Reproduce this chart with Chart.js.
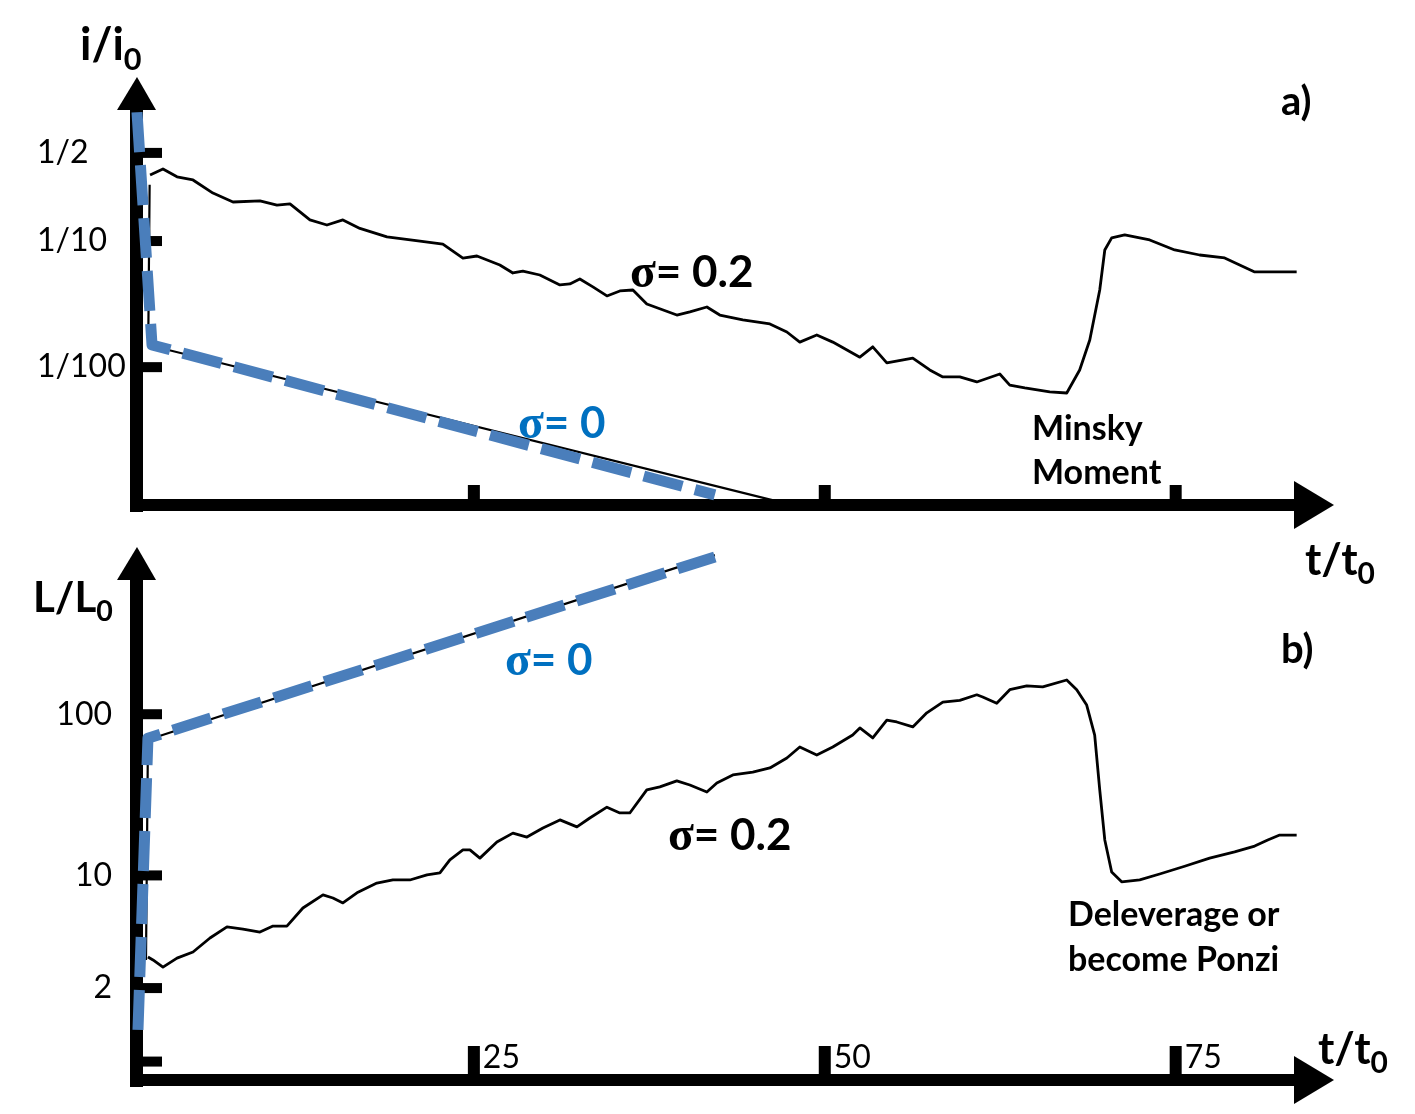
<!DOCTYPE html>
<html>
<head>
<meta charset="utf-8">
<script src="https://cdn.jsdelivr.net/npm/chart.js@4.4.1/dist/chart.umd.min.js"></script>
<style>
  body { margin: 0; background: #fff; }
  #page { position: relative; width: 1415px; height: 1114px; overflow: hidden; }
  canvas { position: absolute; left: 0; }
  .lbl { position: absolute; line-height: 1; transform: translateY(-50%); white-space: nowrap;
         font-family: Lato, "Open Sans", sans-serif; font-weight: bold; color: #000; }
  .lbl sub { font-size: 0.68em; vertical-align: -0.32em; }
  .sig { font-family: "Liberation Serif", serif; font-weight: bold; font-size: 1.08em; }
  .blue { color: #0070c0; }
</style>
</head>
<body>
<div id="page">
  <canvas id="topChart" width="1415" height="540" style="top:0"></canvas>
  <canvas id="bottomChart" width="1415" height="574" style="top:540px"></canvas>

  <div class="lbl" style="left:80px;top:48px;font-size:45px">i/i<sub>0</sub></div>
  <div class="lbl" style="left:1281px;top:100px;font-size:40px">a)</div>
  <div class="lbl" style="left:630px;top:272px;font-size:44px"><span class="sig">σ</span>= 0.2</div>
  <div class="lbl blue" style="left:518px;top:423px;font-size:44px"><span class="sig">σ</span>= 0</div>
  <div class="lbl" style="left:1032px;top:427px;font-size:34px">Minsky</div>
  <div class="lbl" style="left:1032px;top:471px;font-size:34px">Moment</div>
  <div class="lbl" style="left:1305px;top:562px;font-size:44px">t/t<sub>0</sub></div>

  <div class="lbl" style="left:33px;top:600px;font-size:42px">L/L<sub>0</sub></div>
  <div class="lbl" style="left:1281px;top:648px;font-size:40px">b)</div>
  <div class="lbl blue" style="left:505px;top:660px;font-size:44px"><span class="sig">σ</span>= 0</div>
  <div class="lbl" style="left:668px;top:835px;font-size:44px"><span class="sig">σ</span>= 0.2</div>
  <div class="lbl" style="left:1068px;top:913px;font-size:34px">Deleverage or</div>
  <div class="lbl" style="left:1068px;top:958px;font-size:34px">become Ponzi</div>
  <div class="lbl" style="left:1318px;top:1051px;font-size:44px">t/t<sub>0</sub></div>
</div>

<script>
// time axis (t/t0)
const xTickValues = [25, 50, 75];
const xTickLabels = ['25', '50', '75'];

// panel a) interest rate i/i0
const topTickValues = [0.5, 0.1, 0.01];
const topTickLabels = ['1/2', '1/10', '1/100'];

const topNoiseT = [1.93, 2.85, 3.85, 4.99, 6.41, 7.84, 9.76, 10.97, 11.9, 13.32, 14.53, 15.67, 16.88, 18.81, 21.16, 22.79, 24.22, 25.22, 26.85, 27.78, 28.49, 29.70, 31.13, 31.84, 32.55, 33.48, 34.48, 35.40, 36.33, 37.32, 39.46, 40.39, 41.6, 42.52, 44.16, 46.09, 47.3, 48.22, 49.43, 50.57, 52.5, 53.42, 54.42, 56.27, 57.48, 58.41, 59.62, 60.83, 62.47, 63.18, 64.25, 66.03, 67.24, 68.16, 68.88, 69.59, 69.95, 70.44, 71.37, 73.15, 74.93, 76.71, 78.49, 79.56, 80.63, 82.05, 83.62];
const topNoiseV = [0.334, 0.373, 0.323, 0.305, 0.240, 0.204, 0.208, 0.193, 0.197, 0.147, 0.134, 0.147, 0.126, 0.108, 0.100, 0.0946, 0.0733, 0.0761, 0.0646, 0.0558, 0.0578, 0.0538, 0.0449, 0.0457, 0.0500, 0.0433, 0.0367, 0.0402, 0.0409, 0.0317, 0.0259, 0.0274, 0.0300, 0.0259, 0.0237, 0.0220, 0.0190, 0.0158, 0.0180, 0.0158, 0.0120, 0.0145, 0.0108, 0.0118, 0.0095, 0.00836, 0.00836, 0.00763, 0.00883, 0.00720, 0.00684, 0.00636, 0.00624, 0.0095, 0.0164, 0.0409, 0.0849, 0.106, 0.112, 0.102, 0.085, 0.0775, 0.0734, 0.0646, 0.0569, 0.0569, 0.0569];

const topFlatT = [1, 2.07, 42.17];
const topFlatV = [1.05, 0.0150, 0.00097];
const topFlatBlackT = [1.9, 1.8, 48.2];
const topFlatBlackV = [0.28, 0.0150, 0.00078];

// panel b) leverage L/L0
const botTickValues = [0.7, 2, 10, 100];
const botTickLabels = ['', '2', '10', '100'];

const botNoiseT = [1.78, 2.14, 2.85, 3.85, 4.99, 6.20, 7.41, 8.55, 9.76, 10.69, 11.68, 12.82, 14.25, 14.96, 15.67, 16.67, 18.09, 19.23, 20.44, 21.66, 22.58, 23.29, 24.22, 24.72, 25.43, 26.64, 27.78, 28.78, 29.92, 31.13, 32.34, 33.26, 34.48, 35.40, 36.11, 37.32, 38.25, 39.46, 40.39, 41.6, 42.31, 43.45, 44.87, 46.09, 47.3, 48.22, 49.43, 50.57, 51.99, 52.5, 53.42, 54.42, 55.13, 56.27, 57.27, 58.41, 59.62, 60.83, 61.25, 62.25, 63.18, 64.39, 65.53, 67.24, 67.95, 68.66, 69.23, 69.59, 69.95, 70.44, 71.15, 72.44, 73.86, 75.64, 77.42, 79.2, 80.63, 81.56, 82.41, 83.62];
const botNoiseV = [3.12, 2.99, 2.70, 3.07, 3.35, 4.09, 4.79, 4.65, 4.45, 4.85, 4.85, 6.28, 7.57, 7.24, 6.75, 7.80, 8.97, 9.37, 9.37, 10.07, 10.37, 12.5, 14.4, 14.4, 12.8, 16.1, 18.3, 17.3, 19.7, 22.1, 20.0, 22.7, 26.5, 24.4, 24.4, 33.9, 35.4, 38.6, 36.4, 32.9, 37.4, 42.0, 43.8, 46.4, 53.5, 62.6, 55.8, 62.6, 74.3, 82.2, 71.3, 92.0, 89.5, 83.4, 102, 119, 122, 132, 128, 117, 142, 150, 148, 163, 142, 114, 74.3, 33.9, 16.6, 10.5, 9.12, 9.38, 10.2, 11.4, 12.8, 14.0, 15.2, 16.6, 17.8, 17.8];

const botFlatT = [1.07, 1.78, 42.17];
const botFlatV = [1.10, 71.0, 946];
const botFlatBlackT = [1.64, 1.78, 42.17];
const botFlatBlackV = [2.99, 69.5, 971];

function points(ts, vs) {
    return ts.map((t, i) => ({ x: t, y: vs[i] }));
}

// hand-drawn style axes: thick lines, arrow heads, stubby ticks
const sketchAxes = {
    id: 'sketchAxes',
    beforeDatasetsDraw(chart, args, opts) {
        const { ctx, chartArea: a, scales: { x, y } } = chart;
        ctx.save();
        ctx.fillStyle = '#000';

        ctx.fillRect(a.left - 7, a.top, 13, a.bottom - a.top + 7);
        ctx.beginPath();
        ctx.moveTo(a.left - 20, a.top + 2);
        ctx.lineTo(a.left + 19, a.top + 2);
        ctx.lineTo(a.left, a.top - 31);
        ctx.closePath();
        ctx.fill();

        ctx.fillRect(a.left - 7, a.bottom - 6, a.right - a.left + 2, 12);
        ctx.beginPath();
        ctx.moveTo(a.right - 8, a.bottom - 24);
        ctx.lineTo(a.right - 8, a.bottom + 24);
        ctx.lineTo(a.right + 32, a.bottom);
        ctx.closePath();
        ctx.fill();

        opts.yStubs.forEach(v => {
            const py = y.getPixelForValue(v);
            ctx.fillRect(a.left, py - 5, 25, 10);
        });
        xTickValues.forEach((v, i) => {
            const px = x.getPixelForValue(v);
            ctx.fillRect(px - 6, a.bottom - opts.xStubLen, 12, opts.xStubLen);
            if (opts.xLabels) {
                ctx.font = '32px Lato, sans-serif';
                ctx.textBaseline = 'middle';
                ctx.fillText(xTickLabels[i], px + 9, a.bottom - 22);
            }
        });
        ctx.restore();
    }
};

function makeChart(id, cfg) {
    return new Chart(document.getElementById(id), {
        type: 'line',
        data: {
            datasets: [
                { data: cfg.flat, borderColor: '#4a7ebb', borderWidth: 11, borderDash: [40, 13],
                  borderCapStyle: 'butt', borderJoinStyle: 'round', clip: false },
                { data: cfg.flatBlack, borderColor: '#000', borderWidth: 2.2, clip: false },
                { data: cfg.noise, borderColor: '#000', borderWidth: 2.8, borderJoinStyle: 'round', clip: false }
            ]
        },
        options: {
            responsive: false,
            animation: false,
            layout: { padding: cfg.padding },
            elements: { point: { radius: 0 }, line: { tension: 0 } },
            plugins: { legend: { display: false }, tooltip: { enabled: false },
                       sketchAxes: cfg.axes },
            scales: {
                x: { type: 'linear', min: 1, max: 84, display: false },
                y: {
                    type: 'logarithmic', min: cfg.yMin, max: cfg.yMax,
                    grid: { display: false }, border: { display: false },
                    afterFit: s => {
                        s.width = 137 - cfg.padding.left;
                        s.paddingTop = 0;
                        s.paddingBottom = 0;
                    },
                    afterBuildTicks: s => { s.ticks = cfg.ticks.map(v => ({ value: v })); },
                    ticks: {
                        autoSkip: false, padding: cfg.labelPad, crossAlign: cfg.align, color: '#000',
                        font: { family: 'Lato', size: 32 },
                        callback: v => {
                            const i = cfg.ticks.findIndex(t => Math.abs(t - v) < 1e-9);
                            return i >= 0 ? cfg.labels[i] : '';
                        }
                    }
                }
            }
        },
        plugins: [sketchAxes]
    });
}

makeChart('topChart', {
    flat: points(topFlatT, topFlatV),
    flatBlack: points(topFlatBlackT, topFlatBlackV),
    noise: points(topNoiseT, topNoiseV),
    padding: { left: 37, right: 113, top: 108, bottom: 35 },
    yMin: 0.000807, yMax: 1.135,
    ticks: topTickValues, labels: topTickLabels, align: 'far', labelPad: 19,
    axes: { yStubs: topTickValues, xStubLen: 20, xLabels: false }
});

makeChart('bottomChart', {
    flat: points(botFlatT, botFlatV),
    flatBlack: points(botFlatBlackT, botFlatBlackV),
    noise: points(botNoiseT, botNoiseV),
    padding: { left: 0, right: 113, top: 38, bottom: 34 },
    yMin: 0.538, yMax: 700,
    ticks: botTickValues, labels: botTickLabels, align: 'near', labelPad: 17,
    axes: { yStubs: botTickValues, xStubLen: 34, xLabels: true }
});
</script>
</body>
</html>
